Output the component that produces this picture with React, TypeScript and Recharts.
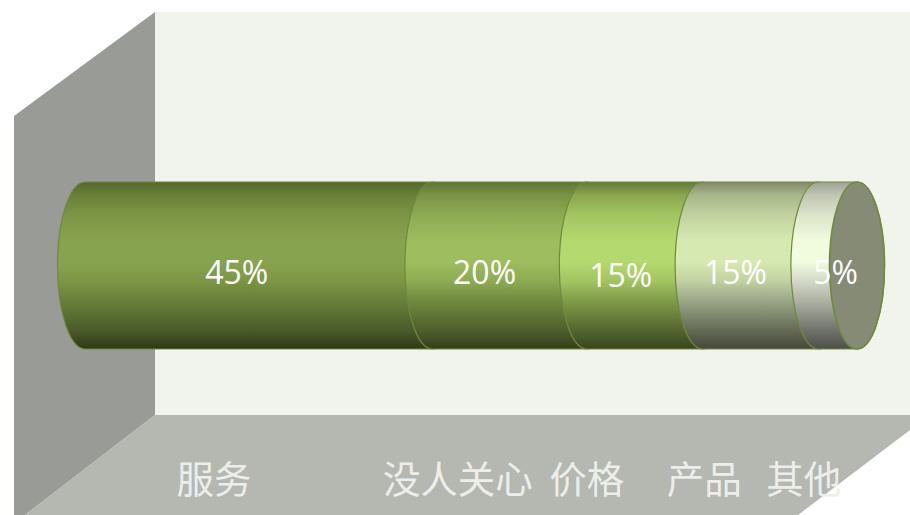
import React from "react";
import { BarChart, Bar, XAxis, YAxis, LabelList } from "recharts";

const categories = ["服务", "没人关心", "价格", "产品", "其他"];
const shares = [45, 20, 15, 15, 5];
// where the category names sit along the value axis
const categoryTicks = [16.7, 48.3, 65.0, 80.2, 93.1];

const row: Record<string, number | string> = { name: "share" };
categories.forEach((c, i) => {
  row[c] = shares[i];
});
const chartData = [row];

const gradients = [
  [["0%", "#55672f"], ["8%", "#6a8038"], ["20%", "#7c9645"], ["35%", "#88a350"], ["48%", "#88a350"], ["59%", "#7c9645"], ["71%", "#68803a"], ["89%", "#4a5b2a"], ["100%", "#2d3817"]],
  [["0%", "#5f7535"], ["8%", "#7a9345"], ["20%", "#8dab53"], ["35%", "#9ebd5e"], ["48%", "#9ebd5e"], ["59%", "#8dab53"], ["71%", "#718a40"], ["89%", "#4e5e2c"], ["100%", "#323e1b"]],
  [["0%", "#64793a"], ["8%", "#8ba64f"], ["20%", "#a3c562"], ["35%", "#b4d96e"], ["48%", "#b4d96e"], ["59%", "#a3c562"], ["71%", "#809c48"], ["89%", "#536530"], ["100%", "#38451e"]],
  [["0%", "#808a6c"], ["8%", "#a8b68a"], ["20%", "#c2d29f"], ["35%", "#d6e9b0"], ["48%", "#d6e9b0"], ["59%", "#c2d2a2"], ["71%", "#9ba688"], ["89%", "#646a54"], ["100%", "#44473a"]],
  [["0%", "#9ea296"], ["8%", "#c0c6b2"], ["20%", "#dce4cc"], ["35%", "#f1fbdd"], ["48%", "#f1fbdd"], ["59%", "#d4dac8"], ["71%", "#aeb2a4"], ["89%", "#6f726a"], ["100%", "#4e4f48"]],
];

const RX = 27.5;
const EDGE = "#6f8a3c";
// the labels are not centred on their slices in the original
const labelShift = [[-22, 0], [-25, 0], [-24, 3], [-25, 0], [-2, 0]];

const makeSegment = (i: number) => (props: any) => {
  const { x, y, width, height } = props;
  const ry = height / 2;
  const d = `M${x},${y} L${x + width},${y} A${RX},${ry} 0 0 1 ${x + width},${y + height} L${x},${y + height} A${RX},${ry} 0 0 1 ${x},${y} Z`;
  return (
    <g>
      <path d={d} fill={`url(#seg${i})`} stroke={EDGE} strokeWidth={1.2} />
      {i === shares.length - 1 && (
        <ellipse cx={x + width} cy={y + ry} rx={RX} ry={ry} fill="#858b75" stroke={EDGE} strokeWidth={1.6} />
      )}
    </g>
  );
};

const makeLabel = (i: number) => (props: any) => {
  const { x, y, width, height, value } = props;
  return (
    <text
      x={x + width / 2 + labelShift[i][0]}
      y={y + height / 2 + labelShift[i][1] + 18}
      textAnchor="middle"
      fill="#ffffff"
      fontSize={32}
      fontFamily="'Open Sans', sans-serif"
    >
      {value}%
    </text>
  );
};

const CategoryTick = (props: any) => {
  const { x, index } = props;
  return (
    <text x={x} y={493} textAnchor="middle" fill="#eceeea" fontSize={37.5} fontFamily="'Noto Sans CJK SC', sans-serif">
      {categories[index]}
    </text>
  );
};

export default function App() {
  return (
    <div style={{ position: "absolute", left: 0, top: 0, width: 910, height: 515, background: "#fff" }}>
      <BarChart
        width={910}
        height={515}
        data={chartData}
        layout="vertical"
        barCategoryGap={0}
        margin={{ top: 182, right: 53, bottom: 0, left: 85 }}
      >
        <defs>
          {gradients.map((stops, i) => (
            <linearGradient key={i} id={`seg${i}`} x1="0" y1="0" x2="0" y2="1">
              {stops.map(([offset, color]) => (
                <stop key={offset} offset={offset} stopColor={color} />
              ))}
            </linearGradient>
          ))}
        </defs>
        {/* walls of the 3d box */}
        <polygon points="155,12 910,12 910,415 155,415" fill="#f1f4ec" />
        <polygon points="14,116 155,12 155,415 25,515 14,515" fill="#999b96" />
        <polygon points="155,415 910,415 910,430 798,515 25,515" fill="#b5b7b1" />
        <XAxis
          type="number"
          domain={[0, 100]}
          ticks={categoryTicks}
          interval={0}
          axisLine={false}
          tickLine={false}
          height={166}
          tick={<CategoryTick />}
        />
        <YAxis type="category" dataKey="name" hide />
        {categories.map((c, i) => (
          <Bar key={c} dataKey={c} stackId="a" isAnimationActive={false} shape={makeSegment(i)}>
            <LabelList dataKey={c} content={makeLabel(i)} />
          </Bar>
        ))}
      </BarChart>
    </div>
  );
}
